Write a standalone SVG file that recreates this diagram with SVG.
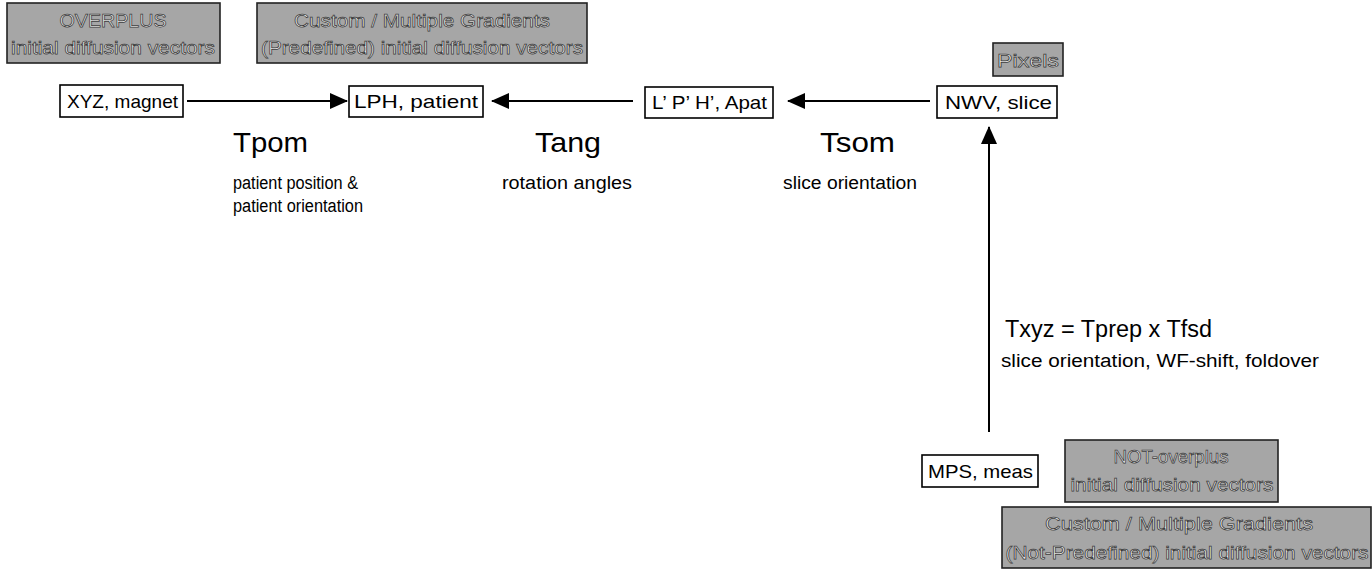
<svg xmlns="http://www.w3.org/2000/svg" width="1372" height="569" viewBox="0 0 1372 569">
  <style>
    text { font-family: "Liberation Sans", Arial, sans-serif; fill: #000; }
    .wbox { fill: #fff; stroke: #000; stroke-width: 1.6; }
    .gbox { fill: #a6a6a6; stroke: #222; stroke-width: 1.6; }
    .btxt { font-size: 19px; }
    .gtxt { font-size: 19px; text-anchor: middle; fill: #eeeeee; stroke: #3a3a3a; stroke-width: 0.75; }
    .big { font-size: 28px; }
    .mid { font-size: 23px; }
    .small { font-size: 18px; }
    .conn { stroke: #000; stroke-width: 2; fill: none; }
  </style>
  <defs>
    <marker id="ah" markerUnits="userSpaceOnUse" markerWidth="18" markerHeight="16" refX="17" refY="8" orient="auto">
      <path d="M0,0 L18,8 L0,16 z" fill="#000"/>
    </marker>
  </defs>
  <rect width="1372" height="569" fill="#fff"/>

  <g id="connectors">
    <line class="conn" x1="187" y1="101" x2="347" y2="101" marker-end="url(#ah)"/>
    <line class="conn" x1="633" y1="101" x2="492" y2="101" marker-end="url(#ah)"/>
    <line class="conn" x1="930" y1="101" x2="788" y2="101" marker-end="url(#ah)"/>
    <line class="conn" x1="989" y1="432" x2="989" y2="127" marker-end="url(#ah)"/>
  </g>

  <g id="overplus">
    <rect class="gbox" x="7" y="3" width="213" height="60"/>
    <text class="gtxt" x="113" y="27" textLength="107" lengthAdjust="spacingAndGlyphs">OVERPLUS</text>
    <text class="gtxt" x="113" y="54" textLength="204" lengthAdjust="spacingAndGlyphs">initial diffusion vectors</text>
  </g>
  <g id="custom-predefined">
    <rect class="gbox" x="257" y="3" width="330" height="60"/>
    <text class="gtxt" x="422" y="27" textLength="256" lengthAdjust="spacingAndGlyphs">Custom / Multiple Gradients</text>
    <text class="gtxt" x="422" y="54" textLength="322" lengthAdjust="spacingAndGlyphs">(Predefined) initial diffusion vectors</text>
  </g>
  <g id="pixels">
    <rect class="gbox" x="993" y="43" width="70" height="33"/>
    <text class="gtxt" x="1028" y="67" textLength="62" lengthAdjust="spacingAndGlyphs">Pixels</text>
  </g>

  <g id="xyz">
    <rect class="wbox" x="60" y="85" width="123" height="32"/>
    <text class="btxt" x="67" y="108" textLength="111" lengthAdjust="spacingAndGlyphs">XYZ, magnet</text>
  </g>
  <g id="lph">
    <rect class="wbox" x="349" y="86" width="134" height="31"/>
    <text class="btxt" x="354" y="108" textLength="124" lengthAdjust="spacingAndGlyphs">LPH, patient</text>
  </g>
  <g id="lph-prime">
    <rect class="wbox" x="645" y="87" width="128" height="31"/>
    <text class="btxt" x="652" y="109" textLength="115" lengthAdjust="spacingAndGlyphs">L’ P’ H’, Apat</text>
  </g>
  <g id="nwv">
    <rect class="wbox" x="937" y="86" width="120" height="32"/>
    <text class="btxt" x="945" y="109" textLength="107" lengthAdjust="spacingAndGlyphs">NWV, slice</text>
  </g>
  <g id="mps">
    <rect class="wbox" x="922" y="455" width="116" height="32"/>
    <text class="btxt" x="928" y="478" textLength="105" lengthAdjust="spacingAndGlyphs">MPS, meas</text>
  </g>

  <g id="not-overplus">
    <rect class="gbox" x="1065" y="440" width="213" height="62"/>
    <text class="gtxt" x="1171" y="463" textLength="115" lengthAdjust="spacingAndGlyphs">NOT-overplus</text>
    <text class="gtxt" x="1172" y="491" textLength="203" lengthAdjust="spacingAndGlyphs">initial diffusion vectors</text>
  </g>
  <g id="custom-not-predefined">
    <rect class="gbox" x="1002" y="507" width="369" height="61"/>
    <text class="gtxt" x="1179" y="530" textLength="268" lengthAdjust="spacingAndGlyphs">Custom / Multiple Gradients</text>
    <text class="gtxt" x="1187" y="559" textLength="363" lengthAdjust="spacingAndGlyphs">(Not-Predefined) initial diffusion vectors</text>
  </g>

  <g id="labels">
    <text class="big" x="233" y="152" textLength="75" lengthAdjust="spacingAndGlyphs">Tpom</text>
    <text class="small" x="233" y="189" textLength="125" lengthAdjust="spacingAndGlyphs">patient position &amp;</text>
    <text class="small" x="233" y="212" textLength="130" lengthAdjust="spacingAndGlyphs">patient orientation</text>
    <text class="big" x="535" y="152" textLength="66" lengthAdjust="spacingAndGlyphs">Tang</text>
    <text class="small" x="502" y="189" textLength="130" lengthAdjust="spacingAndGlyphs">rotation angles</text>
    <text class="big" x="820" y="152" textLength="75" lengthAdjust="spacingAndGlyphs">Tsom</text>
    <text class="small" x="783" y="189" textLength="134" lengthAdjust="spacingAndGlyphs">slice orientation</text>
    <text class="mid" x="1005" y="337" textLength="207" lengthAdjust="spacingAndGlyphs">Txyz = Tprep x Tfsd</text>
    <text class="small" x="1001" y="367" textLength="318" lengthAdjust="spacingAndGlyphs">slice orientation, WF-shift, foldover</text>
  </g>
</svg>
